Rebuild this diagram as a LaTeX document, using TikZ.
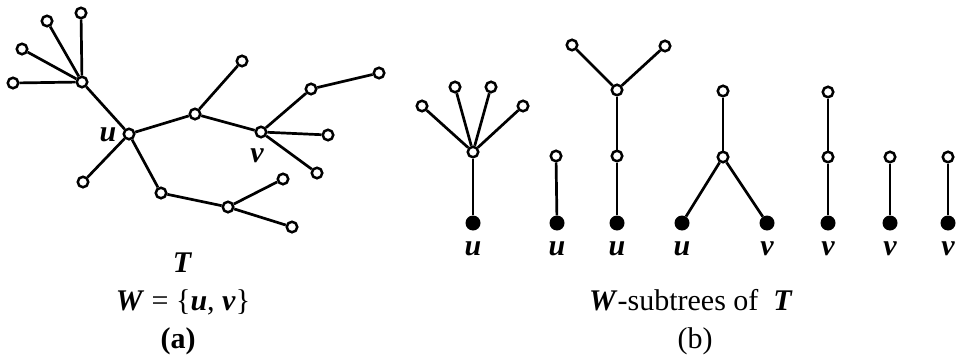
\documentclass[tikz,border=0pt]{standalone}
\usepackage{fontspec}
\setmainfont{Liberation Serif}
\begin{document}
\begin{tikzpicture}[x=1pt,y=-1pt,
  wn/.style={circle,draw,line width=2.5pt,fill=white,inner sep=0pt,minimum size=10.5pt},
  bn/.style={circle,fill=black,inner sep=0pt,minimum size=15pt},
  ed/.style={line width=2.7pt},
  lab/.style={font=\fontsize{30}{36}\selectfont\bfseries\itshape,inner sep=0pt},
  txt/.style={font=\fontsize{30}{36}\selectfont,anchor=base,inner sep=0pt}]
\useasboundingbox (0,0) rectangle (963,356);
% ---------- (a) tree T ----------
\node[wn] (A) at (82,82) {};
\node[wn] (a1) at (81,13) {};
\node[wn] (a2) at (47,21) {};
\node[wn] (a3) at (22,49) {};
\node[wn] (a4) at (13,83) {};
\node[wn] (u) at (129,134) {};
\node[wn] (ul) at (83,182) {};
\node[wn] (m1) at (195,114) {};
\node[wn] (m1l) at (242,61) {};
\node[wn] (v) at (261,132) {};
\node[wn] (v1) at (311,89) {};
\node[wn] (v1l) at (379,73) {};
\node[wn] (v2) at (328,135) {};
\node[wn] (v3) at (317,173) {};
\node[wn] (b1) at (161,193) {};
\node[wn] (b2) at (228,207) {};
\node[wn] (b3) at (283,179) {};
\node[wn] (b4) at (292,227) {};
\foreach \p/\q in {A/a1,A/a2,A/a3,A/a4,A/u,u/ul,u/m1,m1/m1l,m1/v,v/v1,v1/v1l,v/v2,v/v3,u/b1,b1/b2,b2/b3,b2/b4}
  \draw[ed] (\p) -- (\q);
\node[lab] (lu) at (108,135) {u};
\node[lab] (lv) at (257,156) {v};
\node[txt] (tT) at (182,272) {\bfseries\itshape T};
\node[txt] (tW) at (183,310) {\textbf{\textit{W}} = \{\textbf{\textit{u}}, \textbf{\textit{v}}\}};
\node[txt] (ta) at (178,348) {\bfseries (a)};
% ---------- (b) W-subtrees ----------
% tree 1
\node[bn] (r1u) at (473,223) {};
\node[wn] (r1h) at (473,152) {};
\node[wn] (r1a) at (422,106) {};
\node[wn] (r1b) at (455,87) {};
\node[wn] (r1c) at (491,87) {};
\node[wn] (r1d) at (523,106) {};
% tree 2
\node[bn] (r2u) at (557,223) {};
\node[wn] (r2a) at (556,156) {};
% tree 3
\node[bn] (r3u) at (617,223) {};
\node[wn] (r3a) at (617,156) {};
\node[wn] (r3b) at (617,90) {};
\node[wn] (r3c) at (572,45) {};
\node[wn] (r3d) at (665,46) {};
% tree 4
\node[bn] (r4u) at (682,223) {};
\node[bn] (r4v) at (767,223) {};
\node[wn] (r4a) at (723,157) {};
\node[wn] (r4b) at (723,91) {};
% tree 5
\node[bn] (r5v) at (828,223) {};
\node[wn] (r5a) at (828,157) {};
\node[wn] (r5b) at (828,92) {};
% tree 6
\node[bn] (r6v) at (890,223) {};
\node[wn] (r6a) at (890,157) {};
% tree 7
\node[bn] (r7v) at (948,223) {};
\node[wn] (r7a) at (948,157) {};
\foreach \p/\q in {r1u/r1h,r1h/r1a,r1h/r1b,r1h/r1c,r1h/r1d,r2u/r2a,r3u/r3a,r3a/r3b,r3b/r3c,r3b/r3d,r4u/r4a,r4v/r4a,r4a/r4b,r5v/r5a,r5a/r5b,r6v/r6a,r7v/r7a}
  \draw[ed] (\p) -- (\q);
\foreach \n/\x/\t in {l1/473/u,l2/557/u,l3/617/u,l4/682/u,l5/767/v,l6/828/v,l7/890/v,l8/948/v}
  \node[lab,anchor=base] (\n) at (\x,255) {\t};
\node[txt] (tWs) at (691,310) {\textbf{\textit{W}}-subtrees of\ \ \textbf{\textit{T}}};
\node[txt] (tb) at (695,348) {(b)};
\end{tikzpicture}
\end{document}
